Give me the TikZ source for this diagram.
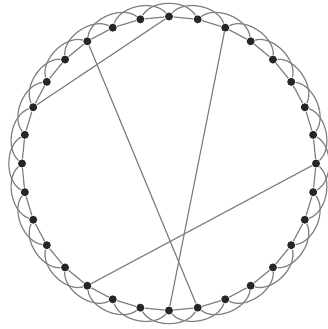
\documentclass[tikz,border=0pt]{standalone}
\usepackage{xcolor}
\usepackage{tikz}

\begin{document}
\begin{tikzpicture}[x=1pt, y=1pt, line width=1.2pt,
    dinh/.style={circle, fill=black!85, inner sep=0pt, minimum size=8pt},
    canh/.style={draw=black!50}]
    % 1. Khung hình
    \useasboundingbox (-169,-165.5) rectangle (158,163.5);
    
    % 2. Các đỉnh trên vòng tròn
    \foreach \k in {0,...,31} {
        \node[dinh] (n\k) at ({90+11.25*\k}:147) {};
    }
    
    % 3. Cạnh nối các đỉnh kề nhau và cách nhau một đỉnh
    \foreach \k in {0,...,31} {
        \pgfmathtruncatemacro{\ke}{mod(\k+1,32)}
        \pgfmathtruncatemacro{\kh}{mod(\k+2,32)}
        \draw[canh] (n\k) -- (n\ke);
        \draw[canh] (n\k) to[bend right=60, looseness=0.9] (n\kh);
    }
    
    % 4. Các dây cung
    \draw[canh] (n0) -- (n6);
    \draw[canh] (n3) -- (n17);
    \draw[canh] (n30) -- (n16);
    \draw[canh] (n24) -- (n13);
\end{tikzpicture}
\end{document}
